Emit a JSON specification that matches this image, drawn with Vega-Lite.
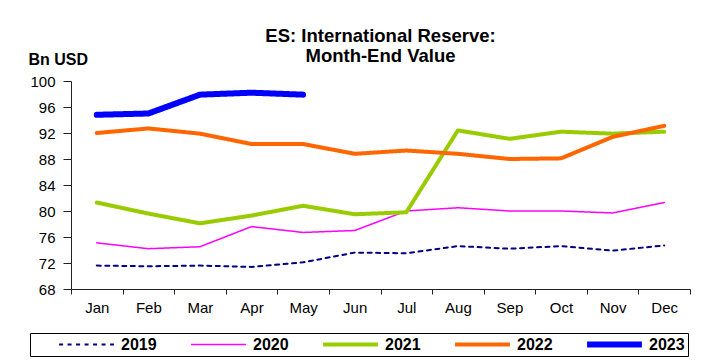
{
  "$schema": "https://vega.github.io/schema/vega-lite/v6.json",
  "width": 619,
  "height": 208,
  "autosize": {"type": "none"},
  "padding": {"left": 71, "top": 81, "right": 22, "bottom": 72},
  "background": "white",
  "title": {
    "text": ["ES: International Reserve:", "Month-End Value"],
    "font": "Liberation Sans",
    "fontSize": 18.5,
    "fontWeight": "bold",
    "color": "black",
    "anchor": "middle",
    "lineHeight": 20,
    "offset": 18,
    "dy": 32
  },
  "data": {
    "values": [
      {"year": "2019", "month": "Jan", "value": 71.6},
      {"year": "2019", "month": "Feb", "value": 71.5},
      {"year": "2019", "month": "Mar", "value": 71.6},
      {"year": "2019", "month": "Apr", "value": 71.4},
      {"year": "2019", "month": "May", "value": 72.1},
      {"year": "2019", "month": "Jun", "value": 73.6},
      {"year": "2019", "month": "Jul", "value": 73.5},
      {"year": "2019", "month": "Aug", "value": 74.6},
      {"year": "2019", "month": "Sep", "value": 74.2},
      {"year": "2019", "month": "Oct", "value": 74.6},
      {"year": "2019", "month": "Nov", "value": 73.9},
      {"year": "2019", "month": "Dec", "value": 74.7},
      {"year": "2020", "month": "Jan", "value": 75.1},
      {"year": "2020", "month": "Feb", "value": 74.2},
      {"year": "2020", "month": "Mar", "value": 74.5},
      {"year": "2020", "month": "Apr", "value": 77.6},
      {"year": "2020", "month": "May", "value": 76.7},
      {"year": "2020", "month": "Jun", "value": 77.0},
      {"year": "2020", "month": "Jul", "value": 80.0},
      {"year": "2020", "month": "Aug", "value": 80.5},
      {"year": "2020", "month": "Sep", "value": 80.0},
      {"year": "2020", "month": "Oct", "value": 80.0},
      {"year": "2020", "month": "Nov", "value": 79.7},
      {"year": "2020", "month": "Dec", "value": 81.3},
      {"year": "2021", "month": "Jan", "value": 81.3},
      {"year": "2021", "month": "Feb", "value": 79.6},
      {"year": "2021", "month": "Mar", "value": 78.1},
      {"year": "2021", "month": "Apr", "value": 79.3},
      {"year": "2021", "month": "May", "value": 80.8},
      {"year": "2021", "month": "Jun", "value": 79.5},
      {"year": "2021", "month": "Jul", "value": 79.8},
      {"year": "2021", "month": "Aug", "value": 92.4},
      {"year": "2021", "month": "Sep", "value": 91.1},
      {"year": "2021", "month": "Oct", "value": 92.2},
      {"year": "2021", "month": "Nov", "value": 91.9},
      {"year": "2021", "month": "Dec", "value": 92.2},
      {"year": "2022", "month": "Jan", "value": 92.0},
      {"year": "2022", "month": "Feb", "value": 92.7},
      {"year": "2022", "month": "Mar", "value": 91.9},
      {"year": "2022", "month": "Apr", "value": 90.3},
      {"year": "2022", "month": "May", "value": 90.3},
      {"year": "2022", "month": "Jun", "value": 88.8},
      {"year": "2022", "month": "Jul", "value": 89.3},
      {"year": "2022", "month": "Aug", "value": 88.8},
      {"year": "2022", "month": "Sep", "value": 88.0},
      {"year": "2022", "month": "Oct", "value": 88.1},
      {"year": "2022", "month": "Nov", "value": 91.4},
      {"year": "2022", "month": "Dec", "value": 93.1},
      {"year": "2023", "month": "Jan", "value": 94.8},
      {"year": "2023", "month": "Feb", "value": 95.0},
      {"year": "2023", "month": "Mar", "value": 97.9},
      {"year": "2023", "month": "Apr", "value": 98.2},
      {"year": "2023", "month": "May", "value": 97.9}
    ]
  },
  "mark": {"type": "line", "strokeCap": "round", "strokeJoin": "round"},
  "encoding": {
    "x": {
      "field": "month",
      "type": "ordinal",
      "sort": ["Jan", "Feb", "Mar", "Apr", "May", "Jun", "Jul", "Aug", "Sep", "Oct", "Nov", "Dec"],
      "scale": {"type": "band", "paddingInner": 0, "paddingOuter": 0},
      "axis": {
        "title": null,
        "labelAngle": 0,
        "tickBand": "extent",
        "tickSize": 5,
        "labelPadding": 6,
        "labelFont": "Liberation Sans",
        "labelFontSize": 15,
        "labelColor": "black",
        "domainColor": "#222222",
        "tickColor": "#222222",
        "grid": false
      }
    },
    "y": {
      "field": "value",
      "type": "quantitative",
      "scale": {"domain": [68, 100], "nice": false, "zero": false},
      "axis": {
        "values": [68, 72, 76, 80, 84, 88, 92, 96, 100],
        "title": "Bn USD",
        "titleAngle": 0,
        "titleX": -43,
        "titleY": -17,
        "titleAlign": "left",
        "titleBaseline": "alphabetic",
        "titleFont": "Liberation Sans",
        "titleFontSize": 16,
        "titleFontWeight": "bold",
        "titleColor": "black",
        "tickSize": 8,
        "labelPadding": 8,
        "labelFont": "Liberation Sans",
        "labelFontSize": 15,
        "labelColor": "black",
        "domainColor": "#222222",
        "tickColor": "#222222",
        "grid": false
      }
    },
    "color": {
      "field": "year",
      "type": "nominal",
      "scale": {"domain": ["2019", "2020", "2021", "2022", "2023"], "range": ["#000080", "#FF00FF", "#99CC00", "#FF6600", "#0000FF"]},
      "legend": {
        "orient": "none",
        "legendX": -41,
        "legendY": 252,
        "direction": "horizontal",
        "title": null,
        "strokeColor": "black",
        "padding": 3,
        "clipHeight": 17,
        "symbolType": "M-8,0H8",
        "symbolSize": 47,
        "symbolOffset": 45.5,
        "labelOffset": 26.5,
        "columnPadding": 8,
        "labelFont": "Liberation Sans",
        "labelFontSize": 16,
        "labelFontWeight": "bold",
        "labelColor": "black"
      }
    },
    "strokeWidth": {
      "field": "year",
      "type": "nominal",
      "scale": {"type": "ordinal", "domain": ["2019", "2020", "2021", "2022", "2023"], "range": [2, 1.5, 4, 4, 6]}
    },
    "strokeDash": {
      "field": "year",
      "type": "nominal",
      "scale": {"domain": ["2019", "2020", "2021", "2022", "2023"], "range": [[4, 4.5], [1, 0], [1, 0], [1, 0], [1, 0]]}
    }
  },
  "config": {
    "view": {"stroke": null},
    "font": "Liberation Sans"
  }
}
